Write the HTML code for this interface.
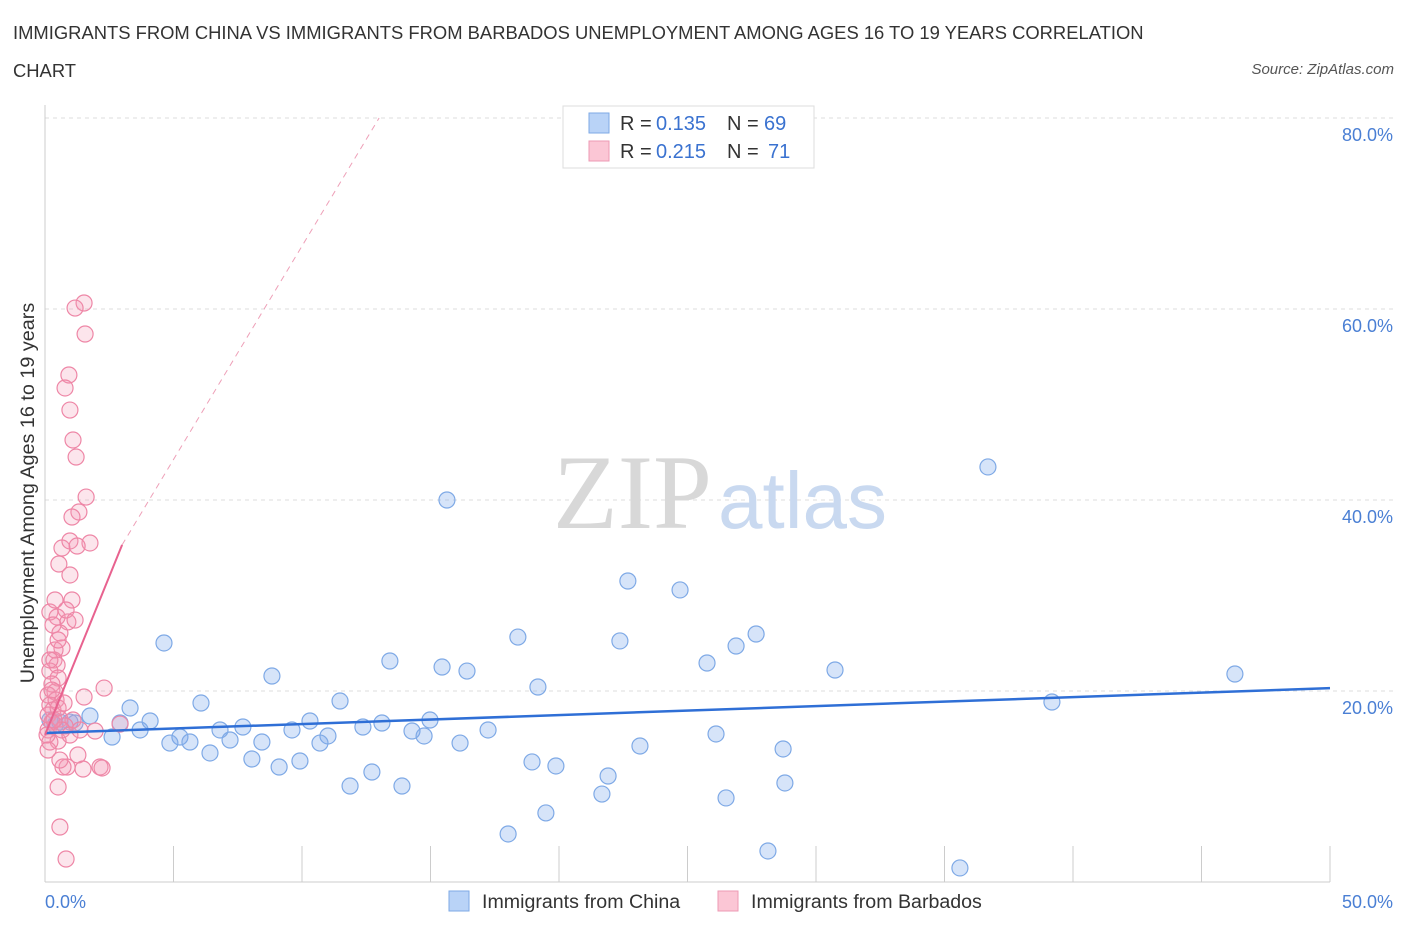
<!DOCTYPE html>
<html><head><meta charset="utf-8">
<style>
body{margin:0;background:#fff;font-family:"Liberation Sans",sans-serif;}
#wrap{position:relative;width:1406px;height:930px;overflow:hidden;}
.title{position:absolute;left:13px;top:14px;font-size:18.4px;color:#333;line-height:38px;width:1170px;}
.source{position:absolute;right:12px;top:61px;font-size:15px;color:#555;font-style:italic;}
</style></head>
<body>
<div id="wrap">
<div class="title">IMMIGRANTS FROM CHINA VS IMMIGRANTS FROM BARBADOS UNEMPLOYMENT AMONG AGES 16 TO 19 YEARS CORRELATION CHART</div>
<div class="source">Source: ZipAtlas.com</div>
<svg id="chart" width="1406" height="930" style="position:absolute;left:0;top:0"></svg>
</div>
<script>
const chinaX=[15.64,36.69,22.68,24.71,27.67,18.40,22.37,26.89,4.63,13.42,15.45,16.42,25.76,30.74,46.30,8.83,19.18,6.07,11.48,39.18,3.31,1.75,4.09,2.92,0.58,0.97,0.39,10.31,6.81,7.70,9.61,13.11,12.37,14.98,14.28,14.75,17.24,11.01,5.25,4.86,5.64,7.20,8.44,10.70,16.15,26.11,23.15,2.61,3.70,6.42,8.05,9.92,9.11,18.95,19.88,28.72,12.72,21.91,11.87,13.89,28.79,21.67,26.50,19.49,18.02,28.13,35.60,1.17,0.19];
const chinaY=[40.0,43.46,31.52,30.58,25.97,25.65,25.24,24.71,25.03,23.14,22.51,22.09,22.93,22.20,21.78,21.57,20.42,18.74,18.95,18.85,18.22,17.38,16.86,16.65,16.75,16.75,16.44,16.86,15.92,16.23,15.92,16.65,16.23,16.96,15.81,15.29,15.92,15.29,15.18,14.55,14.66,14.87,14.66,14.55,14.55,15.50,14.24,15.18,15.92,13.51,12.88,12.67,12.04,12.57,12.15,13.93,11.52,11.10,10.05,10.05,10.37,9.21,8.80,7.23,5.03,3.25,1.47,16.65,16.96];
const barbX=[1.52,1.17,1.56,0.93,0.78,0.97,1.09,1.21,1.60,1.32,1.05,0.66,0.97,1.75,1.25,0.54,0.97,1.05,0.19,0.47,0.89,0.31,0.58,0.66,0.35,0.47,0.19,0.51,0.27,0.39,0.12,2.30,1.52,0.19,0.31,0.12,0.58,0.27,1.09,0.78,0.12,2.92,1.95,0.51,0.19,1.28,0.86,1.48,2.14,0.70,0.51,0.58,0.82,2.22,0.43,0.66,0.08,0.97,1.36,0.27,0.39,0.19,0.51,0.82,1.17,0.39,0.12,0.58,0.35,0.51,0.74];
const barbY=[60.63,60.10,57.38,53.09,51.73,49.42,46.28,44.50,40.31,38.74,38.22,34.97,35.71,35.50,35.18,33.30,32.15,29.53,28.27,27.75,27.23,26.91,26.07,24.50,23.25,22.72,22.09,21.36,20.73,19.90,19.58,20.31,19.37,18.53,18.01,17.49,17.07,16.75,16.96,16.34,15.92,16.54,15.81,14.76,14.66,13.30,12.04,11.83,12.04,12.04,9.95,5.76,2.41,11.94,19.06,15.92,15.39,15.39,15.92,20.10,24.29,23.25,25.34,28.48,27.43,29.53,13.82,12.77,16.96,18.22,18.74];
const yTicks=[20,40,60,80];
const yTickLabels=["20.0%","40.0%","60.0%","80.0%"];
const xTicks=[0,5,10,15,20,25,30,35,40,45,50];
const chinaTrend=[[0,15.6],[50,20.3]];
const barbTrend=[[0,15.4],[3,35.3]];
const barbTrendExt=[[3,35.3],[13,80]];

const NS="http://www.w3.org/2000/svg";
const svg=document.getElementById('chart');
const X=v=>45+v*25.7;
const Y=v=>882-v*9.55;
function mk(t,a){const e=document.createElementNS(NS,t);for(const k in a)e.setAttribute(k,a[k]);svg.appendChild(e);return e;}

yTicks.forEach((t,i)=>{
  const g=mk('line',{x1:45,x2:1395,y1:Y(t),y2:Y(t),stroke:'#ddd','stroke-dasharray':'4,4'});
  
  
  const l=mk('text',{x:1393,y:Y(t)+23,'text-anchor':'end','font-size':18,fill:'#4a7fd4'});
  l.textContent=yTickLabels[i];
  
  
});
const ax=mk('line',{x1:45,x2:1330,y1:882,y2:882,stroke:'#ccc'});


const ay=mk('line',{x1:45,x2:45,y1:105,y2:882,stroke:'#ccc'});


xTicks.forEach(t=>{
  const k=mk('line',{x1:X(t),x2:X(t),y1:846,y2:882,stroke:'#ccc'});
  
  
});
const xl0=mk('text',{x:45,y:908,'font-size':18,fill:'#4a7fd4'});xl0.textContent='0.0%';


const xl1=mk('text',{x:1393,y:908,'text-anchor':'end','font-size':18,fill:'#4a7fd4'});xl1.textContent='50.0%';


const yt=mk('text',{x:34,y:493,'text-anchor':'middle','font-size':19.8,fill:'#333',transform:'rotate(-90 34 493)'});
yt.textContent='Unemployment Among Ages 16 to 19 years';



const w1=mk('text',{x:553,y:528,'font-size':106,fill:'#d8d8d8','font-family':'Liberation Serif, serif'});w1.textContent='ZIP';


const w2=mk('text',{x:718,y:528,'font-size':80,fill:'#c9d9f0'});w2.textContent='atlas';



chinaX.forEach((v,i)=>{
  const c=mk('circle',{cx:X(v),cy:Y(chinaY[i]),r:8,fill:'rgba(120,165,235,0.3)',stroke:'#7ea9e6','stroke-width':1.2});
  
  
});
barbX.forEach((v,i)=>{
  const c=mk('circle',{cx:X(v),cy:Y(barbY[i]),r:8,fill:'rgba(245,150,180,0.25)',stroke:'#ee86a6','stroke-width':1.2});
  
  
});
const t1=mk('line',{x1:X(chinaTrend[0][0]),y1:Y(chinaTrend[0][1]),x2:X(chinaTrend[1][0]),y2:Y(chinaTrend[1][1]),stroke:'#2f6fd6','stroke-width':2.5});


const t2=mk('line',{x1:X(barbTrend[0][0]),y1:Y(barbTrend[0][1]),x2:X(barbTrend[1][0]),y2:Y(barbTrend[1][1]),stroke:'#e8628f','stroke-width':2});


const t3=mk('line',{x1:X(barbTrendExt[0][0]),y1:Y(barbTrendExt[0][1]),x2:X(barbTrendExt[1][0]),y2:Y(barbTrendExt[1][1]),stroke:'#eea0b8','stroke-width':1,'stroke-dasharray':'6,5'});



// top legend
const lb=mk('rect',{x:563,y:106,width:251,height:62,fill:'#fff',stroke:'#ddd'});


[[0,'#b9d3f7','#7ea9e6','0.135','69',764],[1,'#fbc6d5','#ee9ab4','0.215','71',768]].forEach(r=>{
  const y=113+r[0]*28;
  const s=mk('rect',{x:589,y:y,width:20,height:20,fill:r[1],stroke:r[2]});
  
  
  const a=mk('text',{x:620,y:y+17,'font-size':20,fill:'#333'});a.textContent='R =';
  
  
  const b=mk('text',{x:656,y:y+17,'font-size':20,fill:'#3a72d0'});b.textContent=r[3];
  
  
  const c=mk('text',{x:727,y:y+17,'font-size':20,fill:'#333'});c.textContent='N =';
  
  
  const d=mk('text',{x:r[5],y:y+17,'font-size':20,fill:'#3a72d0'});d.textContent=r[4];
  
  
});
// bottom legend
[[449,'#b9d3f7','#7ea9e6','Immigrants from China','legend-china'],[718,'#fbc6d5','#ee9ab4','Immigrants from Barbados','legend-barbados']].forEach(r=>{
  const s=mk('rect',{x:r[0],y:891,width:20,height:20,fill:r[1],stroke:r[2]});
  
  
  const t=mk('text',{x:r[0]+33,y:908,'font-size':19.6,fill:'#333'});
  t.textContent=r[3];
  
  
});
</script>
</body></html>
